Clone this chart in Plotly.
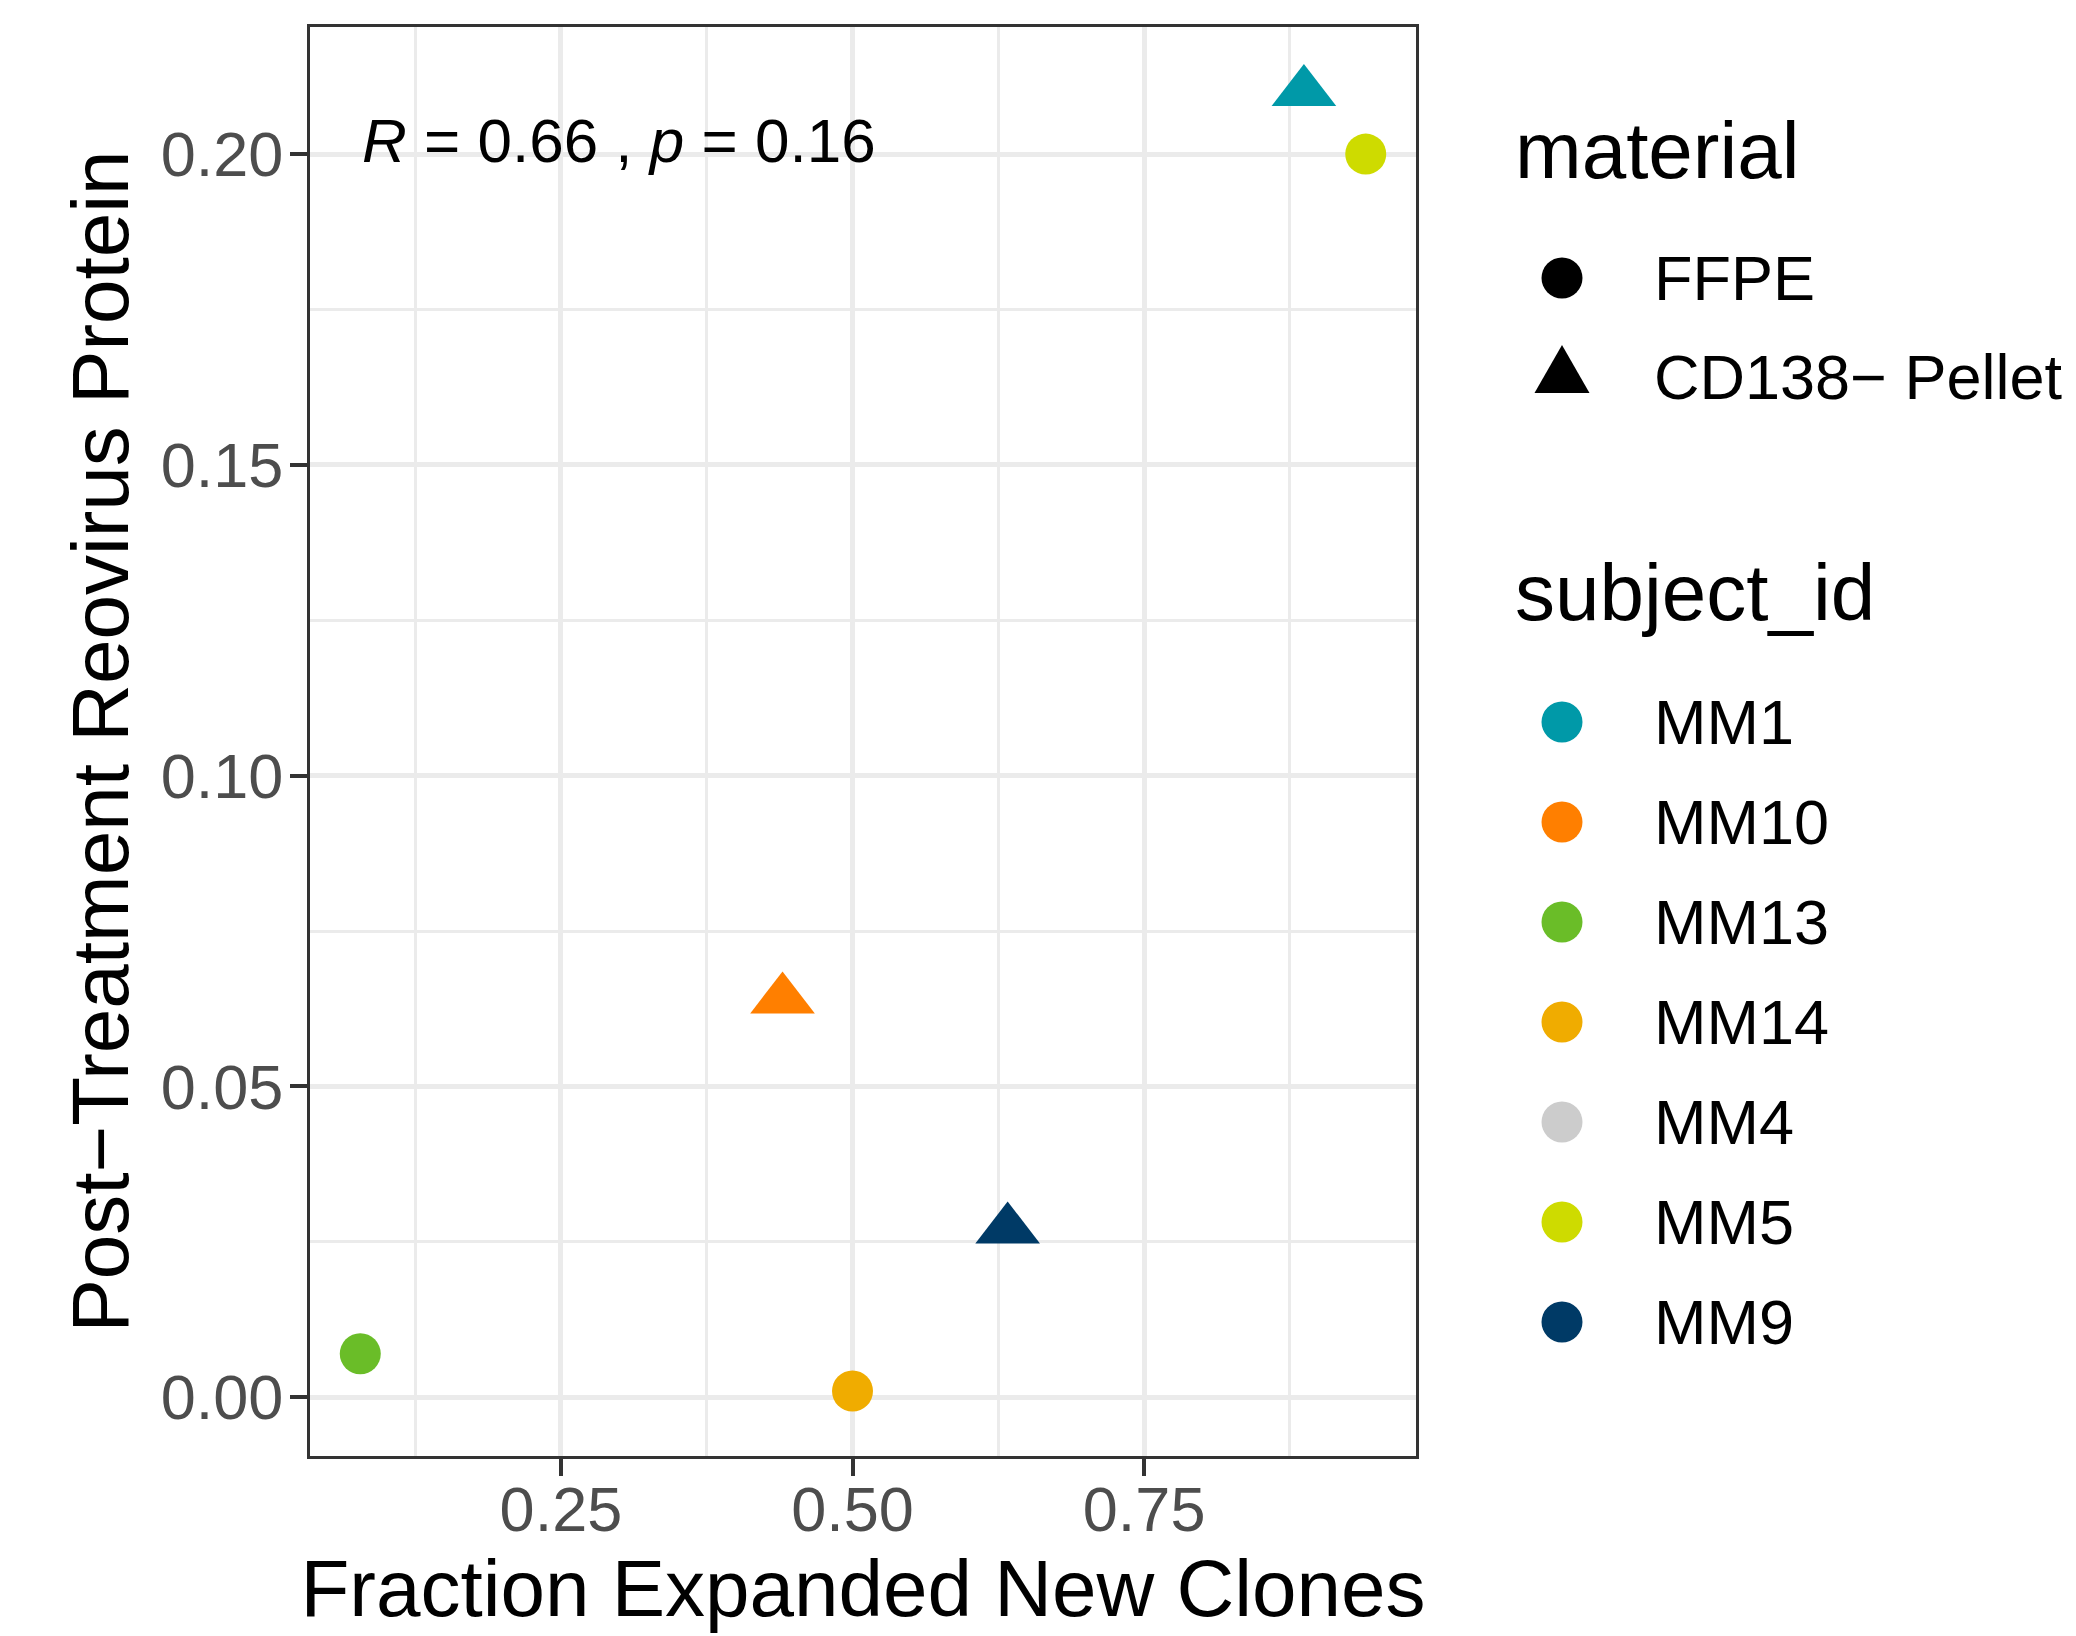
import plotly.graph_objects as go

# ---------------- data ----------------
subjects = ["MM1", "MM10", "MM13", "MM14", "MM4", "MM5", "MM9"]
subject_colors = ["#0099A8", "#FF7F00", "#6ABD28", "#F0AC00", "#CCCCCC", "#CEDB00", "#003A66"]
materials = ["FFPE", "CD138\u2212 Pellet"]
material_symbols = ["circle", "triangle-up"]

pt_subject = ["MM1", "MM10", "MM13", "MM14", "MM5", "MM9"]
pt_material = ["CD138\u2212 Pellet", "CD138\u2212 Pellet", "FFPE", "FFPE", "FFPE", "CD138\u2212 Pellet"]
frac_expanded = [0.887, 0.440, 0.078, 0.500, 0.940, 0.633]
reovirus_protein = [0.210, 0.064, 0.007, 0.001, 0.200, 0.027]

x_ticks = [0.25, 0.50, 0.75]
x_ticktext = ["0.25", "0.50", "0.75"]
x_minor = [0.125, 0.375, 0.625, 0.875]
y_ticks = [0.00, 0.05, 0.10, 0.15, 0.20]
y_ticktext = ["0.00", "0.05", "0.10", "0.15", "0.20"]
y_minor = [0.025, 0.075, 0.125, 0.175]

stat_label = "<i>R</i> = 0.66 , <i>p</i> = 0.16"

# ---------------- layout constants ----------------
W, H = 2076, 1636
ML, MR, MT, MB = 310, 660, 27, 180
PW, PH = W - ML - MR, H - MT - MB
FONT = "Liberation Sans, Arial, Helvetica, sans-serif"
color_of = dict(zip(subjects, subject_colors))
symbol_of = dict(zip(materials, material_symbols))
size_of = {"circle": 41, "triangle-up": 56}


def px(xp):
    return (xp - ML) / PW


def py(yp):
    return (H - MB - yp) / PH


def expand(vals, mult=0.05):
    lo, hi = min(vals), max(vals)
    d = (hi - lo) * mult
    return [lo - d, hi + d]


fig = go.Figure()
for s, m, xv, yv in zip(pt_subject, pt_material, frac_expanded, reovirus_protein):
    sym = symbol_of[m]
    fig.add_trace(go.Scatter(
        x=[xv], y=[yv], mode="markers", name=s, showlegend=False,
        marker=dict(color=color_of[s], symbol=sym, size=size_of[sym], line=dict(width=0)),
        hovertemplate=f"{s} ({m})<br>%{{x}}, %{{y}}<extra></extra>",
    ))

axis_common = dict(
    showline=True, linecolor="#333333", linewidth=3, mirror=True,
    ticks="outside", ticklen=17, tickwidth=4, tickcolor="#333333",
    tickfont=dict(family=FONT, size=63, color="#4D4D4D"),
    showgrid=True, gridcolor="#EBEBEB", gridwidth=5, zeroline=False,
    automargin=False,
)

fig.update_xaxes(
    range=expand(frac_expanded), tickmode="array", tickvals=x_ticks, ticktext=x_ticktext,
    minor=dict(tickmode="array", tickvals=x_minor, showgrid=True, gridcolor="#EBEBEB", gridwidth=2.8, ticks=""),
    ticklabelstandoff=-21,
    title=dict(text="Fraction Expanded New Clones", font=dict(family=FONT, size=80, color="black"), standoff=16),
    **axis_common,
)
fig.update_yaxes(
    range=expand(reovirus_protein), tickmode="array", tickvals=y_ticks, ticktext=y_ticktext,
    minor=dict(tickmode="array", tickvals=y_minor, showgrid=True, gridcolor="#EBEBEB", gridwidth=2.8, ticks=""),
    ticklabelstandoff=-6,
    title=dict(text="Post\u2212Treatment Reovirus Protein", font=dict(family=FONT, size=80, color="black"), standoff=6),
    **axis_common,
)

annotations = [dict(
    x=min(frac_expanded), y=0.2022, xref="x", yref="y", xanchor="left", yanchor="middle",
    text=stat_label, showarrow=False, font=dict(family=FONT, size=62, color="black"),
)]
shapes = []

# ---------------- legends (drawn as keys + text) ----------------
TITLE_X, KEY_X, LABEL_X = 1513, 1562, 1652


def legend_title(text, yp):
    annotations.append(dict(
        x=px(TITLE_X), y=py(yp), xref="paper", yref="paper", xanchor="left", yanchor="middle",
        text=text, showarrow=False, font=dict(family=FONT, size=80, color="black"),
    ))


def legend_label(text, yp):
    annotations.append(dict(
        x=px(LABEL_X), y=py(yp), xref="paper", yref="paper", xanchor="left", yanchor="middle",
        text=text, showarrow=False, font=dict(family=FONT, size=63, color="black"),
    ))


def legend_key(symbol, color, yp):
    base = dict(xref="paper", yref="paper", xsizemode="pixel", ysizemode="pixel",
                xanchor=px(KEY_X), yanchor=py(yp), fillcolor=color, line=dict(width=0), layer="above")
    if symbol == "circle":
        shapes.append(dict(type="circle", x0=-20.5, x1=20.5, y0=-20.5, y1=20.5, **base))
    else:
        shapes.append(dict(type="path", path="M-27.5,-16L27.5,-16L0,32Z", **base))


legend_title("material", 151)
for i, (m, sym) in enumerate(zip(materials, material_symbols)):
    yp = 278 + 99 * i
    legend_key(sym, "black", yp)
    legend_label(m, yp)

legend_title("subject_id", 592)
for i, (s, c) in enumerate(zip(subjects, subject_colors)):
    yp = 722 + 100 * i
    legend_key("circle", c, yp)
    legend_label(s, yp)

fig.update_layout(
    width=W, height=H, autosize=False,
    margin=dict(l=ML, r=MR, t=MT, b=MB, pad=0, autoexpand=False),
    paper_bgcolor="white", plot_bgcolor="white",
    font=dict(family=FONT, color="black"),
    showlegend=False,
    annotations=annotations, shapes=shapes,
)

fig.write_html(
    "out.html",
    config={"displayModeBar": False},
    post_script="document.body.style.margin='0';document.body.style.padding='0';document.body.style.overflow='hidden';",
)
